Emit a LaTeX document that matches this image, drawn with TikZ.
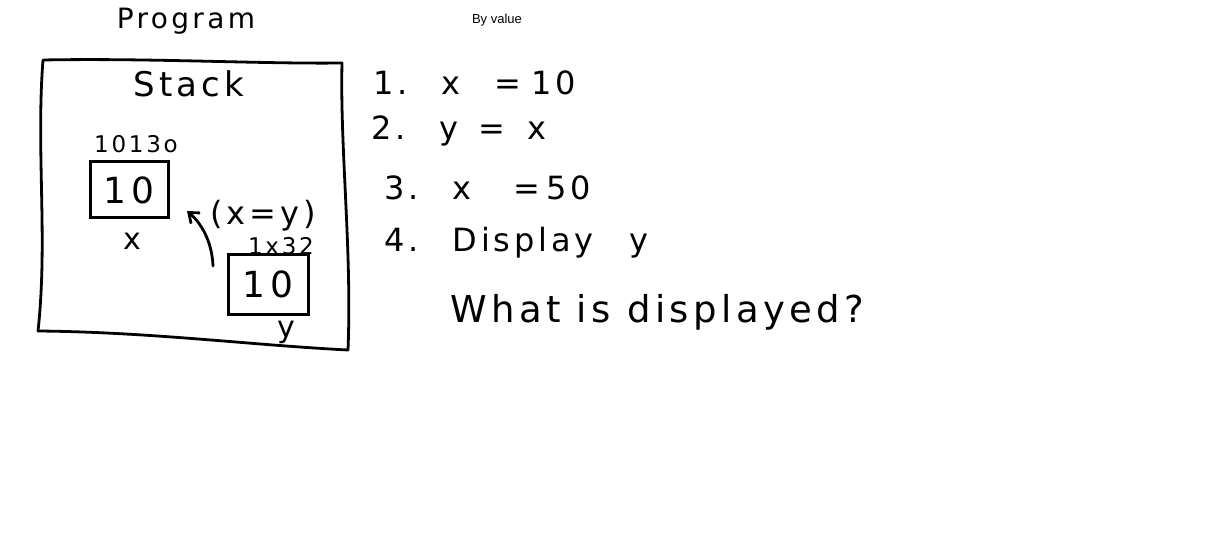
\documentclass[tikz,border=0pt]{standalone}
\usepackage{fontspec}
\setmainfont{DejaVu Sans}
\newfontfamily\wide[LetterSpace=12]{DejaVu Sans}
\newfontfamily\smallfont{Liberation Sans}
\usetikzlibrary{arrows.meta}
\begin{document}
\begin{tikzpicture}[x=1pt,y=-1pt,
  hand/.style={font=\wide\fontsize{32}{36}\selectfont, inner sep=0pt, anchor=west},
  mid/.style={font=\wide\fontsize{30}{34}\selectfont, inner sep=0pt},
  tiny/.style={font=\wide\fontsize{23}{26}\selectfont, inner sep=0pt},
  ink/.style={line width=2.8pt, line cap=round, line join=round},
  valbox/.style={draw, line width=3pt, minimum width=78pt, minimum height=56pt, inner sep=0pt, font=\wide\fontsize{36}{40}\selectfont}]
\useasboundingbox (0,0) rectangle (1230,545);
\fill[white] (0,0) rectangle (1230,545);

% titles
\node[mid, font=\wide\fontsize{28}{32}\selectfont] (program) at (186,21) {Program};
\node[inner sep=0pt, font=\smallfont\fontsize{13}{15}\selectfont] (byvalue) at (497,20) {By value};

% stack outline
\draw[ink] (43,60) .. controls (150,58) and (260,64) .. (342,63)
  .. controls (340,150) and (352,250) .. (348,350)
  .. controls (250,345) and (150,332) .. (38,331)
  .. controls (48,240) and (36,150) .. (43,60) -- cycle;
\node[mid, font=\wide\fontsize{34}{38}\selectfont] (stack) at (189,84) {Stack};

% x cell
\node[tiny] (addrx) at (136,144) {1013o};
\node[valbox] (boxx) at (129,190) {10};
\node[mid] (labx) at (132,241) {x};

% y cell
\node[tiny] (addry) at (281,246) {1x32};
\node[valbox, minimum width=80pt, minimum height=60pt] (boxy) at (268,284) {10};
\node[mid] (laby) at (286,332) {y};
\node[mid, font=\wide\fontsize{32}{36}\selectfont] (assign) at (263,216) {(x=y)};

% arrow from y to x
\coordinate (arrstart) at (213,266);
\coordinate (arrend) at (187,211);
\draw[ink, -{Straight Barb[length=9pt,width=14pt]}] (arrstart) .. controls (212,240) and (200,222) .. (arrend);

% steps
\node[hand] (s1) at (373,83) {1.\hspace{34pt}x\hspace{34pt}=\hspace{10pt}10};
\node[hand] (s2) at (371,131) {2.\hspace{34pt}y\hspace{20pt}=\hspace{22pt}x};
\node[hand] (s3) at (384,188) {3.\hspace{34pt}x\hspace{42pt}=\hspace{6pt}50};
\node[hand] (s4) at (384,243) {4.\hspace{34pt}Display\hspace{36pt}y};
\node[hand, font=\wide\fontsize{37}{41}\selectfont] (q) at (450,312) {What is displayed?};
\end{tikzpicture}
\end{document}
